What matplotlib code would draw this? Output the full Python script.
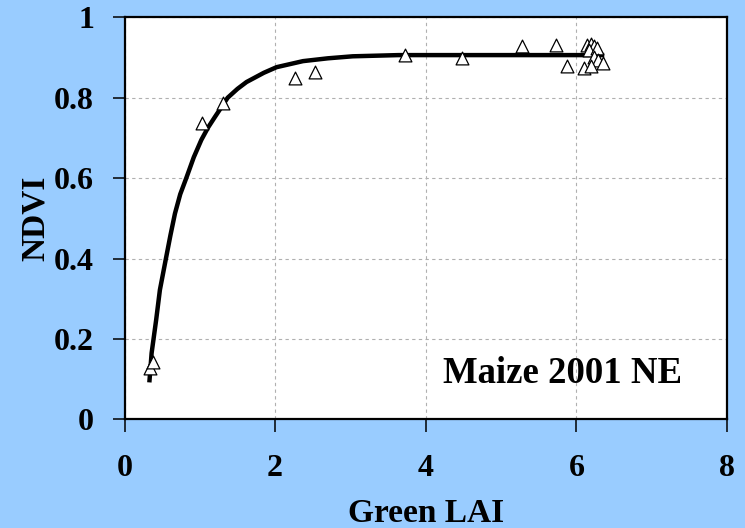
import matplotlib
matplotlib.use("Agg")
import matplotlib.pyplot as plt

# Observed data (Green LAI, NDVI)
lai_obs = [0.337, 0.381, 1.03, 1.31, 2.27, 2.53, 3.72, 4.48, 5.28, 5.73, 5.88, 6.10,
           6.14, 6.20, 6.24, 6.17, 6.28, 6.24, 6.29, 6.36, 6.20]
ndvi_obs = [0.127, 0.143, 0.738, 0.786, 0.848, 0.865, 0.906, 0.899, 0.928, 0.931, 0.879, 0.874,
            0.931, 0.933, 0.928, 0.919, 0.924, 0.901, 0.894, 0.886, 0.879]

# Fitted curve
lai_fit = [0.33, 0.36, 0.42, 0.47, 0.55, 0.61, 0.67, 0.74, 0.82, 0.92, 1.02, 1.11, 1.20,
           1.37, 1.50, 1.62, 1.85, 2.02, 2.37, 2.70, 3.03, 3.64, 4.44, 5.20, 6.37]
ndvi_fit = [0.092, 0.165, 0.247, 0.322, 0.400, 0.458, 0.512, 0.560, 0.600, 0.652, 0.695,
            0.726, 0.752, 0.800, 0.822, 0.839, 0.862, 0.876, 0.891, 0.898, 0.903, 0.906,
            0.906, 0.906, 0.906]

x_ticks = [0, 2, 4, 6, 8]
y_ticks = [0, 0.2, 0.4, 0.6, 0.8, 1]
y_tick_labels = ["0", "0.2", "0.4", "0.6", "0.8", "1"]

bg = "#99CCFF"
fig = plt.figure(figsize=(7.45, 5.28), dpi=100, facecolor=bg)
ax = fig.add_axes([124.5 / 745, 1 - 419.4 / 528, (727 - 124.5) / 745, (419.4 - 17.3) / 528])
ax.set_facecolor("white")

font = {"family": "Liberation Serif", "weight": "bold"}

ax.plot(lai_fit, ndvi_fit, color="black", lw=3.2, zorder=2, solid_capstyle="butt",
        solid_joinstyle="round")
ax.scatter(lai_obs, ndvi_obs, marker="^", s=85, facecolor="white", edgecolor="black",
           linewidth=0.9, zorder=3)

ax.set_xlim(0, 8)
ax.set_ylim(0, 1)
ax.set_xticks(x_ticks)
ax.set_yticks(y_ticks)
ax.set_xticklabels([str(t) for t in x_ticks], fontdict=font, fontsize=23)
ax.set_yticklabels(y_tick_labels, fontdict=font, fontsize=23)
ax.tick_params(direction="out", length=9, width=1.1, color="black")
ax.tick_params(axis="x", pad=16)
ax.tick_params(axis="y", pad=13)

ax.grid(True, color="#b0b0b0", linestyle=(0, (3, 3)), linewidth=0.8)
ax.set_axisbelow(True)
for s in ax.spines.values():
    s.set_linewidth(1.6)
    s.set_color("black")

ax.set_xlabel("Green LAI", fontdict=font, fontsize=24, labelpad=11)
ax.set_ylabel("NDVI", fontdict=font, fontsize=24, labelpad=2)

ax.text(0.925, 0.115, "Maize 2001 NE", transform=ax.transAxes, ha="right", va="center",
        fontdict=font, fontsize=26.5)

fig.savefig("out.png", dpi=100, facecolor=bg)
